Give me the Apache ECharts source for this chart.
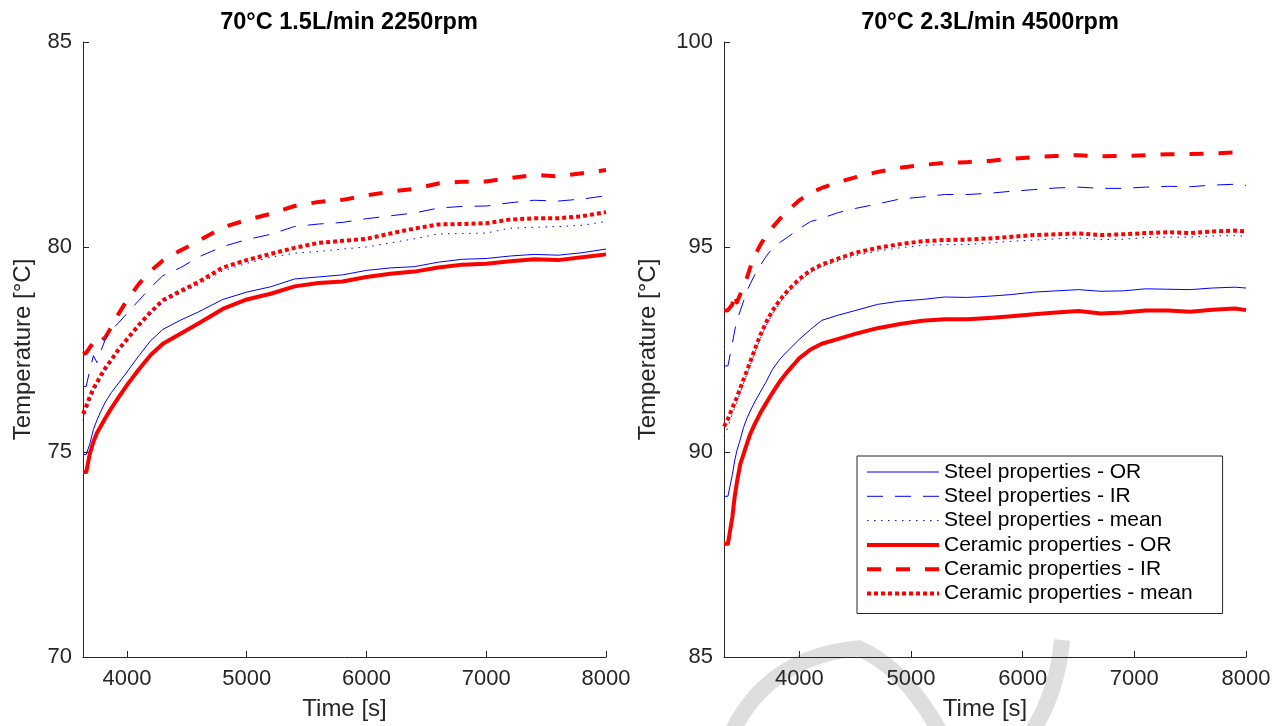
<!DOCTYPE html>
<html>
<head>
<meta charset="utf-8">
<script src="https://cdn.jsdelivr.net/npm/echarts@6/dist/echarts.min.js"></script>
<style>
  html, body { margin: 0; padding: 0; background: #fff; }
  #chart { width: 1280px; height: 726px; }
</style>
</head>
<body>
<div id="chart"></div>
<script>
// ---- Panel A: 70°C 1.5L/min 2250rpm ----
const timeA = [3633, 3660, 3690, 3720, 3750, 3780, 3820, 3870, 3930, 4000, 4100, 4200, 4300, 4450, 4600, 4800,
  5000, 5200, 5400, 5600, 5800, 6000, 6200, 6400, 6600, 6800, 7000, 7200, 7400, 7600, 7800, 8000];
const steelOR_A = [74.94, 74.94, 75.2, 75.55, 75.78, 75.98, 76.22, 76.45, 76.68, 76.95, 77.35, 77.72, 77.99, 78.22, 78.42, 78.72,
  78.9, 79.03, 79.22, 79.27, 79.32, 79.43, 79.49, 79.52, 79.63, 79.7, 79.72, 79.78, 79.82, 79.8, 79.86, 79.95];
const steelIR_A = [76.6, 76.6, 77.0, 77.35, 77.18, 77.45, 77.75, 77.98, 78.15, 78.38, 78.7, 79.02, 79.3, 79.5, 79.76, 80.01,
  80.18, 80.31, 80.5, 80.56, 80.6, 80.69, 80.76, 80.83, 80.95, 80.99, 81.0, 81.08, 81.14, 81.12, 81.17, 81.25];
const steelMean_A = [75.77, 75.98, 76.22, 76.45, 76.62, 76.78, 76.98, 77.2, 77.45, 77.7, 78.05, 78.38, 78.65, 78.88, 79.08, 79.42,
  79.6, 79.75, 79.85, 79.89, 79.95, 80.0, 80.1, 80.2, 80.32, 80.33, 80.34, 80.46, 80.48, 80.5, 80.53, 80.62];
const ceramicOR_A = [74.51, 74.51, 74.96, 75.25, 75.47, 75.62, 75.83, 76.07, 76.33, 76.63, 77.02, 77.37, 77.64, 77.89, 78.14, 78.49,
  78.72, 78.86, 79.04, 79.12, 79.16, 79.27, 79.35, 79.4, 79.5, 79.57, 79.59, 79.65, 79.7, 79.68, 79.75, 79.82];
const ceramicIR_A = [77.39, 77.42, 77.55, 77.67, 77.59, 77.7, 77.8, 78.05, 78.37, 78.7, 79.1, 79.42, 79.67, 79.92, 80.15, 80.48,
  80.66, 80.81, 81.0, 81.1, 81.15, 81.26, 81.35, 81.42, 81.55, 81.59, 81.6, 81.68, 81.76, 81.72, 81.8, 81.88];
const ceramicMean_A = [75.93, 76.12, 76.35, 76.55, 76.7, 76.86, 77.05, 77.25, 77.5, 77.75, 78.1, 78.42, 78.7, 78.93, 79.15, 79.5,
  79.68, 79.83, 79.98, 80.1, 80.15, 80.2, 80.33, 80.45, 80.55, 80.56, 80.58, 80.67, 80.7, 80.7, 80.75, 80.85];

// ---- Panel B: 70°C 2.3L/min 4500rpm ----
const timeB = [3325, 3360, 3400, 3420, 3440, 3470, 3500, 3530, 3560, 3600, 3650, 3700, 3760, 3830, 3900, 4000, 4100, 4200,
  4350, 4500, 4700, 4900, 5100, 5300, 5500, 5700, 5900, 6100, 6300, 6500, 6700, 6900, 7100, 7300, 7500, 7700, 7900, 8000];
const steelOR_B = [88.92, 88.92, 89.45, 89.78, 90.03, 90.3, 90.6, 90.82, 91.0, 91.22, 91.46, 91.7, 92.02, 92.28, 92.48, 92.75, 92.99, 93.21,
  93.34, 93.45, 93.6, 93.68, 93.72, 93.78, 93.77, 93.8, 93.84, 93.9, 93.93, 93.96, 93.92, 93.93, 93.98, 93.97, 93.96, 94.0, 94.02, 94.0];
const steelIR_B = [92.1, 92.1, 92.65, 92.95, 93.2, 93.44, 93.68, 93.92, 94.1, 94.32, 94.55, 94.76, 94.98, 95.12, 95.25, 95.45, 95.62, 95.7,
  95.84, 95.94, 96.05, 96.17, 96.22, 96.28, 96.28, 96.31, 96.36, 96.4, 96.44, 96.46, 96.43, 96.43, 96.46, 96.48, 96.47, 96.51, 96.53, 96.5];
const steelMean_B = [90.38, 90.6, 90.92, 91.06, 91.2, 91.44, 91.68, 91.9, 92.12, 92.42, 92.77, 93.07, 93.38, 93.66, 93.9, 94.17, 94.38, 94.52,
  94.66, 94.79, 94.9, 94.98, 95.04, 95.06, 95.06, 95.1, 95.14, 95.17, 95.2, 95.22, 95.18, 95.19, 95.23, 95.24, 95.24, 95.27, 95.28, 95.26];
const ceramicOR_B = [87.76, 87.76, 88.42, 88.9, 89.25, 89.7, 89.95, 90.2, 90.44, 90.68, 90.95, 91.18, 91.45, 91.74, 91.98, 92.29, 92.5, 92.64,
  92.76, 92.88, 93.02, 93.12, 93.2, 93.24, 93.24, 93.27, 93.31, 93.36, 93.4, 93.44, 93.38, 93.4, 93.45, 93.45, 93.42, 93.47, 93.5, 93.46];
const ceramicIR_B = [93.45, 93.46, 93.6, 93.88, 93.65, 93.84, 94.05, 94.25, 94.5, 94.78, 95.05, 95.27, 95.48, 95.7, 95.9, 96.14, 96.32, 96.44,
  96.58, 96.7, 96.83, 96.93, 97.0, 97.05, 97.07, 97.1, 97.15, 97.19, 97.22, 97.24, 97.21, 97.22, 97.24, 97.26, 97.27, 97.28, 97.31, 97.28];
const ceramicMean_B = [90.62, 90.8, 91.08, 91.2, 91.33, 91.55, 91.77, 91.98, 92.2, 92.5, 92.85, 93.15, 93.45, 93.72, 93.95, 94.22, 94.43, 94.57,
  94.72, 94.86, 94.98, 95.07, 95.14, 95.17, 95.18, 95.21, 95.25, 95.29, 95.31, 95.33, 95.29, 95.31, 95.34, 95.36, 95.34, 95.38, 95.4, 95.38];

const titles = ['70°C 1.5L/min 2250rpm', '70°C 2.3L/min 4500rpm'];
const timeTicks = [4000, 5000, 6000, 7000, 8000];
const seriesNames = ['Steel properties - OR', 'Steel properties - IR', 'Steel properties - mean',
  'Ceramic properties - OR', 'Ceramic properties - IR', 'Ceramic properties - mean'];

// line look for each of the six series (same order as seriesNames)
const looks = [
  { color: '#0000ff', width: 1, type: 'solid' },
  { color: '#0000ff', width: 1, type: [16, 12] },
  { color: '#0000ff', width: 1, type: [1.5, 5.5] },
  { color: '#ff0000', width: 4, type: 'solid' },
  { color: '#ff0000', width: 4, type: [14, 15] },
  { color: '#ff0000', width: 4, type: [4, 3] }
];

const FONT = 'Liberation Sans, Arial, Helvetica, sans-serif';
const INK = '#262626';

function pairs(t, v) { return t.map((x, i) => [x, v[i]]); }

const panelData = [
  { time: timeA, vals: [steelOR_A, steelIR_A, steelMean_A, ceramicOR_A, ceramicIR_A, ceramicMean_A] },
  { time: timeB, vals: [steelOR_B, steelIR_B, steelMean_B, ceramicOR_B, ceramicIR_B, ceramicMean_B] }
];

const grids = [
  { left: 83, top: 42, width: 523, height: 618 },
  { left: 724, top: 42, width: 522, height: 618 }
];

function xAxisFor(i, min) {
  return {
    type: 'value', gridIndex: i, min: min, max: 8000,
    name: 'Time [s]', nameLocation: 'middle', nameGap: 40,
    nameTextStyle: { fontFamily: FONT, fontSize: 24, color: INK },
    axisLine: { show: true, lineStyle: { color: INK, width: 1 } },
    axisTick: { show: true, inside: true, length: 6, lineStyle: { color: INK }, customValues: timeTicks },
    axisLabel: { fontFamily: FONT, fontSize: 22, color: INK, margin: 11, customValues: timeTicks,
      formatter: v => String(v) },
    splitLine: { show: false }
  };
}

function yAxisFor(i, min, max, gap) {
  return {
    type: 'value', gridIndex: i, min: min, max: max, interval: 5,
    name: 'Temperature [°C]', nameLocation: 'middle', nameGap: gap,
    nameTextStyle: { fontFamily: FONT, fontSize: 24, color: INK },
    axisLine: { show: true, lineStyle: { color: INK, width: 1 } },
    axisTick: { show: true, inside: true, length: 6, lineStyle: { color: INK } },
    axisLabel: { fontFamily: FONT, fontSize: 22, color: INK, margin: 11, formatter: v => String(v) },
    splitLine: { show: false }
  };
}

const series = [];
panelData.forEach((p, gi) => {
  p.vals.forEach((v, k) => {
    series.push({
      name: seriesNames[k], type: 'line', xAxisIndex: gi, yAxisIndex: gi,
      data: pairs(p.time, v), symbol: 'none', showSymbol: false,
      color: looks[k].color,
      lineStyle: { color: looks[k].color, width: looks[k].width, type: looks[k].type, cap: 'butt', join: 'round' },
      z: k < 3 ? 3 : 2,
      emphasis: { disabled: true }
    });
  });
});

const WM = '#dedede';
const chart = echarts.init(document.getElementById('chart'), null, { renderer: 'canvas' });
chart.setOption({
  animation: false,
  backgroundColor: '#ffffff',
  title: [
    { text: titles[0], left: 344, top: 6, textAlign: 'center',
      textStyle: { fontFamily: FONT, fontSize: 23.5, fontWeight: 'bold', color: '#000' } },
    { text: titles[1], left: 985, top: 6, textAlign: 'center',
      textStyle: { fontFamily: FONT, fontSize: 23.5, fontWeight: 'bold', color: '#000' } }
  ],
  grid: grids,
  xAxis: [xAxisFor(0, 3633), xAxisFor(1, 3325)],
  yAxis: [yAxisFor(0, 70, 85, 48), yAxisFor(1, 85, 100, 64)],
  legend: {
    orient: 'vertical', left: 857, top: 456,
    padding: [4, 30, 8, 8],
    itemWidth: 72, itemHeight: 14, itemGap: 0.3,
    backgroundColor: '#ffffff', borderColor: INK, borderWidth: 1,
    selectedMode: false,
    textStyle: { fontFamily: FONT, fontSize: 21, color: '#000', lineHeight: 24 },
    data: seriesNames.map((n, k) => ({
      name: n,
      itemStyle: { opacity: 0 },
      lineStyle: { width: looks[k].width, type: looks[k].type, color: looks[k].color, cap: 'butt' }
    }))
  },
  // faint grey watermark strokes in the lower right corner
  graphic: [
    { type: 'bezierCurve', z: -10, silent: true,
      shape: { x1: 732, y1: 732, cpx1: 770, cpy1: 655, x2: 862, y2: 648 },
      style: { stroke: WM, lineWidth: 16, fill: null } },
    { type: 'bezierCurve', z: -10, silent: true,
      shape: { x1: 858, y1: 648, cpx1: 905, cpy1: 668, x2: 940, y2: 732 },
      style: { stroke: WM, lineWidth: 16, fill: null } },
    { type: 'bezierCurve', z: -10, silent: true,
      shape: { x1: 1062, y1: 640, cpx1: 1058, cpy1: 690, x2: 1032, y2: 732 },
      style: { stroke: WM, lineWidth: 16, fill: null } }
  ],
  series: series
});
</script>
</body>
</html>
